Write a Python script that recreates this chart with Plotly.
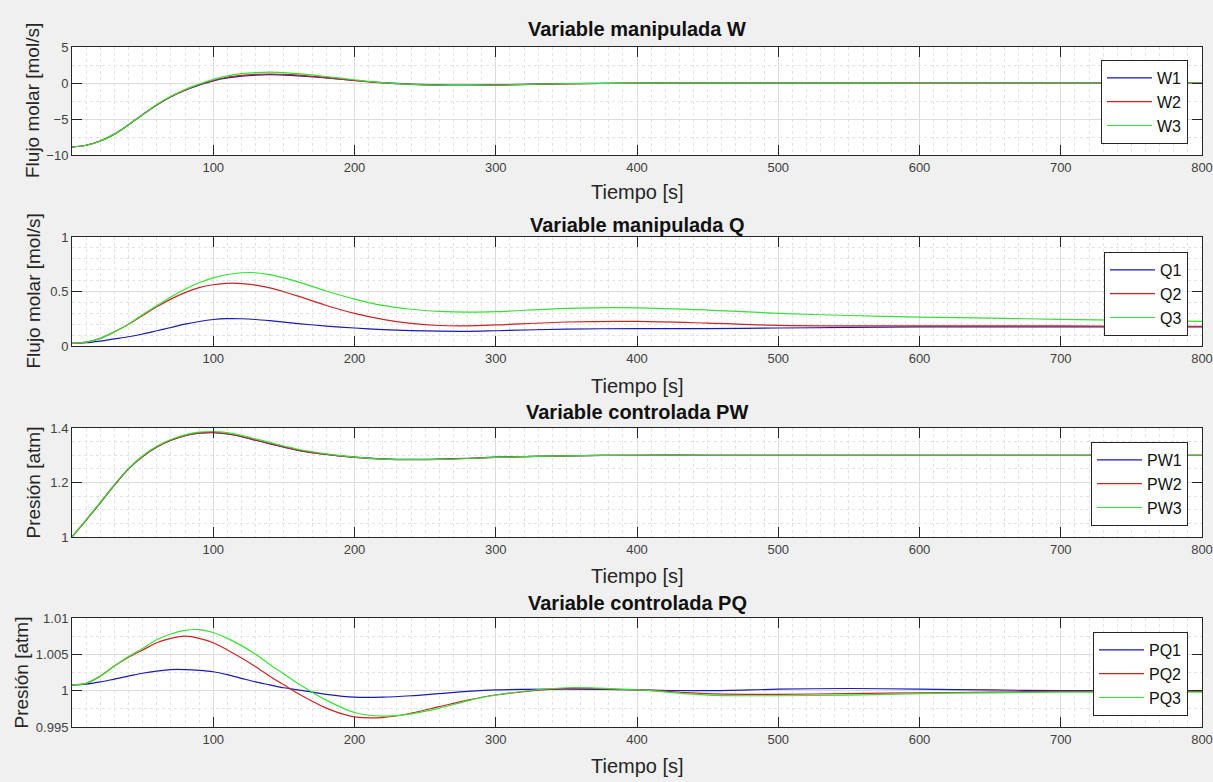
import plotly.graph_objects as go

# ---------------- data ----------------
t = [0, 10, 20, 30, 40, 50, 60, 70, 80, 90, 100, 110, 120, 130, 140, 150, 160,
     180, 200, 220, 240, 260, 280, 300, 350, 400, 450, 500, 550, 600, 650, 700, 750, 800]

W1 = [-8.9, -8.65, -8.05, -7.1, -5.8, -4.4, -3.05, -1.9, -1.0, -0.3, 0.3, 0.7, 0.95, 1.1, 1.15, 1.1, 1.0,
      0.7, 0.35, 0.05, -0.15, -0.25, -0.3, -0.25, -0.1, -0.02, 0.02, 0.02, 0.01, 0.0, 0.0, 0.0, 0.0, 0.0]
W2 = [-8.9, -8.65, -8.05, -7.1, -5.8, -4.4, -3.05, -1.9, -1.0, -0.25, 0.35, 0.8, 1.05, 1.2, 1.25, 1.2, 1.1,
      0.75, 0.35, 0.0, -0.2, -0.32, -0.35, -0.3, -0.12, -0.03, 0.02, 0.02, 0.01, 0.0, 0.0, 0.0, 0.0, 0.0]
W3 = [-8.9, -8.65, -8.05, -7.1, -5.8, -4.4, -3.0, -1.85, -0.9, -0.15, 0.5, 1.0, 1.3, 1.45, 1.5, 1.45, 1.3,
      0.9, 0.45, 0.05, -0.2, -0.3, -0.32, -0.28, -0.1, -0.02, 0.02, 0.02, 0.01, 0.0, 0.0, 0.0, 0.0, 0.0]

Q1 = [0.025, 0.03, 0.045, 0.065, 0.085, 0.11, 0.14, 0.17, 0.2, 0.225, 0.243, 0.251, 0.25, 0.243, 0.232, 0.219, 0.206,
      0.183, 0.165, 0.151, 0.141, 0.136, 0.135, 0.14, 0.155, 0.16, 0.16, 0.165, 0.17, 0.175, 0.175, 0.175, 0.175, 0.175]
Q2 = [0.025, 0.035, 0.07, 0.13, 0.2, 0.28, 0.36, 0.43, 0.49, 0.535, 0.562, 0.575, 0.573, 0.558, 0.533, 0.498, 0.458,
      0.372, 0.30, 0.245, 0.207, 0.188, 0.185, 0.193, 0.22, 0.225, 0.21, 0.19, 0.185, 0.185, 0.185, 0.185, 0.18, 0.18]
Q3 = [0.025, 0.035, 0.07, 0.13, 0.2, 0.29, 0.37, 0.45, 0.52, 0.58, 0.625, 0.656, 0.672, 0.672, 0.655, 0.625, 0.588,
      0.505, 0.43, 0.372, 0.337, 0.318, 0.311, 0.315, 0.345, 0.35, 0.33, 0.30, 0.28, 0.265, 0.255, 0.245, 0.235, 0.225]

PW1 = [1.0, 1.062, 1.125, 1.19, 1.25, 1.295, 1.33, 1.355, 1.372, 1.381, 1.383, 1.378, 1.368, 1.355, 1.342, 1.33, 1.318,
       1.303, 1.293, 1.287, 1.285, 1.286, 1.289, 1.293, 1.298, 1.3, 1.3, 1.3, 1.3, 1.3, 1.3, 1.3, 1.3, 1.3]
PW2 = [1.0, 1.062, 1.125, 1.19, 1.25, 1.295, 1.33, 1.355, 1.372, 1.382, 1.384, 1.379, 1.369, 1.356, 1.343, 1.331, 1.319,
       1.303, 1.292, 1.286, 1.284, 1.285, 1.288, 1.292, 1.298, 1.3, 1.3, 1.3, 1.3, 1.3, 1.3, 1.3, 1.3, 1.3]
PW3 = [1.0, 1.063, 1.127, 1.192, 1.252, 1.298, 1.333, 1.358, 1.375, 1.385, 1.387, 1.383, 1.373, 1.36, 1.347, 1.334, 1.322,
       1.305, 1.293, 1.286, 1.284, 1.285, 1.288, 1.292, 1.298, 1.3, 1.3, 1.3, 1.3, 1.3, 1.3, 1.3, 1.3, 1.3]

PQ1 = [1.0008, 1.0009, 1.0012, 1.0016, 1.002, 1.0024, 1.0027, 1.0029, 1.0029, 1.0028, 1.0026, 1.0022, 1.0017, 1.0012,
       1.0008, 1.0004, 1.0001, 0.9995, 0.9991, 0.9991, 0.9993, 0.9996, 0.9999, 1.0001, 1.0002, 1.0001, 1.0, 1.0002,
       1.0003, 1.0002, 1.0001, 1.0, 1.0, 1.0]
PQ2 = [1.0008, 1.001, 1.002, 1.0034, 1.0046, 1.0056, 1.0066, 1.0072, 1.0075, 1.0072, 1.0066, 1.0056, 1.0045, 1.0033,
       1.002, 1.0008, 0.9996, 0.9976, 0.9964, 0.9963, 0.9969, 0.9978, 0.9987, 0.9994, 1.0003, 1.0001, 0.9996, 0.9995,
       0.9996, 0.9997, 0.9998, 0.9999, 0.9999, 0.9999]
PQ3 = [1.0008, 1.001, 1.002, 1.0034, 1.0047, 1.0058, 1.007, 1.0078, 1.0083, 1.0084, 1.008, 1.0072, 1.0062, 1.005,
       1.0036, 1.0023, 1.001, 0.9987, 0.997, 0.9965, 0.9968, 0.9976, 0.9986, 0.9994, 1.0004, 1.0001, 0.9994, 0.9993,
       0.9994, 0.9996, 0.9997, 0.9998, 0.9998, 0.9998]

x_ticks = [100, 200, 300, 400, 500, 600, 700, 800]

panels = [
    dict(title="Variable manipulada W", ylabel="Flujo molar [mol/s]", names=["W1", "W2", "W3"],
         series=[W1, W2, W3], yrange=[-10, 5], yticks=[-10, -5, 0, 5], yminor=2.5),
    dict(title="Variable manipulada Q", ylabel="Flujo molar [mol/s]", names=["Q1", "Q2", "Q3"],
         series=[Q1, Q2, Q3], yrange=[0, 1], yticks=[0, 0.5, 1], yminor=0.1),
    dict(title="Variable controlada PW", ylabel="Presión [atm]", names=["PW1", "PW2", "PW3"],
         series=[PW1, PW2, PW3], yrange=[1, 1.4], yticks=[1, 1.2, 1.4], yminor=0.05),
    dict(title="Variable controlada PQ", ylabel="Presión [atm]", names=["PQ1", "PQ2", "PQ3"],
         series=[PQ1, PQ2, PQ3], yrange=[0.995, 1.01], yticks=[0.995, 1, 1.005, 1.01], yminor=0.0025),
]

colors = ["#1a1ab4", "#cc2424", "#36e036"]

# ---------------- layout geometry (pixels) ----------------
W, H = 1213, 782
x0, x1 = 72, 1202
plot_tops = [47, 237, 428, 618]
plot_bots = [155, 346, 537, 727]
title_y = [29, 225, 412, 603]
xlabel_y = [192, 386, 576, 766]
ylabel_x = [33, 33, 33, 21]
legend_right = [1188, 1188, 1188, 1188]
legend_top = [60, 252, 442, 632]

FONT = "Liberation Sans, Arial, Helvetica, sans-serif"
AX_COL = "#262626"

fig = go.Figure()
layout = dict(
    template="none",
    width=W, height=H, autosize=False, margin=dict(l=0, r=0, t=0, b=0, pad=0),
    paper_bgcolor="#f0f0f0", plot_bgcolor="white",
    font=dict(family=FONT, color=AX_COL),
    annotations=[],
)

for i, p in enumerate(panels):
    k = "" if i == 0 else str(i + 1)
    xa, ya = "x" + k, "y" + k
    leg = "legend" + k
    for j in range(3):
        fig.add_trace(go.Scatter(
            x=t, y=p["series"][j], name=p["names"][j], mode="lines",
            line=dict(color=colors[j], width=1.2, shape="spline", smoothing=0.9),
            xaxis=xa, yaxis=ya, legend=leg, hoverinfo="skip"))
    yd = [1 - plot_bots[i] / H, 1 - plot_tops[i] / H]
    layout["xaxis" + k] = dict(
        domain=[x0 / W, x1 / W], anchor=ya, range=[0, 800], automargin=False,
        tickvals=x_ticks, ticks="inside", ticklen=10, tickcolor=AX_COL,
        showline=True, linecolor=AX_COL, linewidth=1, mirror="allticks",
        showgrid=True, gridcolor="#dcdcdc", gridwidth=1,
        minor=dict(dtick=10, showgrid=True, gridcolor="#e3e3e3", griddash="dot", ticks=""),
        tickfont=dict(size=13, color="#404040"), zeroline=False)
    layout["yaxis" + k] = dict(
        domain=yd, anchor=xa, range=p["yrange"], automargin=False,
        tickvals=p["yticks"], ticks="inside", ticklen=10, tickcolor=AX_COL,
        showline=True, linecolor=AX_COL, linewidth=1, mirror="allticks",
        showgrid=True, gridcolor="#dcdcdc", gridwidth=1,
        minor=dict(dtick=p["yminor"], tick0=p["yrange"][0], showgrid=True,
                   gridcolor="#e3e3e3", griddash="dot", ticks=""),
        tickfont=dict(size=13, color="#404040"), zeroline=False)
    layout[leg] = dict(
        x=legend_right[i] / W, xanchor="right", y=1 - legend_top[i] / H, yanchor="top",
        bgcolor="white", bordercolor=AX_COL, borderwidth=1, itemwidth=45,
        font=dict(size=16, color="#111111", family=FONT), tracegroupgap=0)
    cx = (x0 + x1) / 2 / W
    layout["annotations"] += [
        dict(text="<b>" + p["title"] + "</b>", x=cx, y=1 - title_y[i] / H, xref="paper", yref="paper",
             showarrow=False, font=dict(size=20, color="#111111", family=FONT), xanchor="center", yanchor="middle"),
        dict(text="Tiempo [s]", x=cx, y=1 - xlabel_y[i] / H, xref="paper", yref="paper",
             showarrow=False, font=dict(size=20, color="#262626", family=FONT), xanchor="center", yanchor="middle"),
        dict(text=p["ylabel"], x=ylabel_x[i] / W, y=(yd[0] + yd[1]) / 2, xref="paper", yref="paper",
             textangle=-90, showarrow=False, font=dict(size=19, color="#262626", family=FONT),
             xanchor="center", yanchor="middle"),
    ]

fig.update_layout(**layout)
fig.write_html(
    "out.html",
    config={"displayModeBar": False, "responsive": False},
    post_script=(
        "document.body.style.margin='0';document.body.style.overflow='hidden';"
        "var gd=document.getElementById('{plot_id}');"
        "gd.style.position='fixed';gd.style.left='0px';gd.style.top='0px';"
    ),
)
